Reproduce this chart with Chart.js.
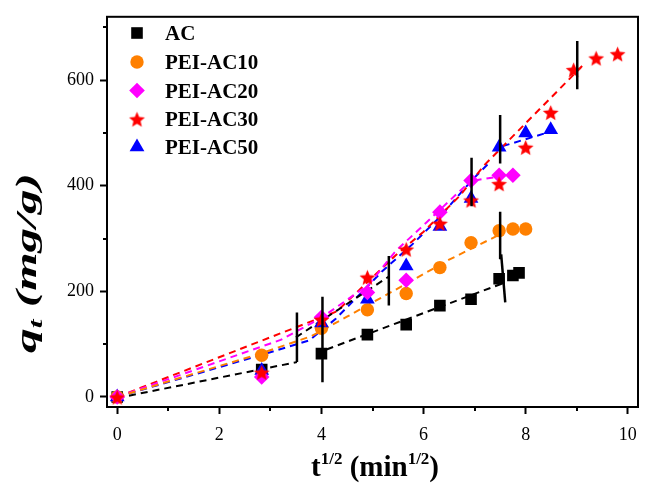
<!DOCTYPE html>
<html>
<head>
  <meta charset="utf-8">
  <title>Intraparticle diffusion plot</title>
  <style>
    html, body { margin: 0; padding: 0; background: #fff; }
    #chart { display: block; }
  </style>
</head>
<body>
  <canvas id="chart" width="650" height="484"></canvas>

  <script src="https://cdn.jsdelivr.net/npm/chart.js@4/dist/chart.umd.min.js"></script>
  <script>
    // axis ticks
    const xTickValues = [0, 2, 4, 6, 8, 10];
    const xMinorValues = [1, 3, 5, 7, 9];
    const yTickValues = [0, 200, 400, 600];
    const yMinorValues = [100, 300, 500, 700];

    // measured points, x = t^1/2, y = q_t
    const seriesNames = ['AC', 'PEI-AC10', 'PEI-AC20', 'PEI-AC30', 'PEI-AC50'];
    const acX = [0, 2.83, 4.0, 4.9, 5.66, 6.32, 6.93, 7.48, 7.75, 7.87];
    const acY = [0, 52, 82, 118, 137, 173, 185, 224, 230, 235];
    const ac10X = [0, 2.83, 4.0, 4.9, 5.66, 6.32, 6.93, 7.48, 7.75, 8.0];
    const ac10Y = [0, 79, 130, 165, 196, 245, 292, 315, 318, 318];
    const ac20X = [0, 2.83, 4.0, 4.9, 5.66, 6.32, 6.93, 7.48, 7.75];
    const ac20Y = [0, 38, 151, 198, 221, 350, 410, 420, 420];
    const ac30X = [0, 2.83, 4.0, 4.9, 5.66, 6.32, 6.93, 7.48, 8.0, 8.49, 8.94, 9.38, 9.8];
    const ac30Y = [0, 47, 147, 227, 280, 329, 373, 404, 473, 539, 620, 642, 650];
    const ac50X = [0, 2.83, 4.0, 4.9, 5.66, 6.32, 6.93, 7.48, 8.0, 8.49];
    const ac50Y = [0, 50, 140, 185, 248, 323, 376, 473, 500, 506];

    // dashed fit lines [x, y]
    const fitAcA = [[0, -2], [3.52, 66]];
    const fitAcB = [[3.5, 113], [5.32, 228]];
    const fitAcC = [[4.1, 90], [7.6, 217]];
    const fitAc10 = [[0, 0], [2.8, 82], [3.8, 115], [4.5, 152], [5.45, 203], [6.5, 260], [7.5, 308]];
    const fitAc20 = [[0, 0], [3.2, 108], [4.0, 150], [4.93, 213], [5.45, 276], [6.04, 329], [6.93, 410]];
    const fitAc20b = [[7.0, 410], [7.7, 421]];
    const fitAc30 = [[0, 0], [4.3, 162], [5.45, 268], [6.0, 313], [6.7, 380], [7.2, 440], [9.16, 632]];
    const fitAc50 = [[0, 0], [2.8, 79], [3.76, 107], [4.28, 148], [5.19, 238], [5.78, 289], [6.3, 339], [6.95, 411], [7.3, 445]];
    const fitAc50b = [[7.55, 475], [8.4, 500]];

    // vertical stage markers: lower end and upper end
    const dividerX1 = [3.52, 4.02, 5.32, 6.94, 7.5, 7.5, 7.6, 9.01];
    const dividerY1 = [66, 28, 173, 361, 442, 261, 179, 583];
    const dividerX2 = [3.52, 4.02, 5.32, 6.94, 7.5, 7.5, 7.52, 9.01];
    const dividerY2 = [160, 190, 267, 453, 534, 351, 270, 674];

    const serif = '"Liberation Serif", "Times New Roman", serif';
    const colors = ['#000000', '#ff8000', '#ff00ff', '#ff0000', '#0000ff'];

    function pts(xs, ys) {
      return xs.map((x, i) => ({ x: x, y: ys[i] }));
    }
    function pairPts(arr) {
      return arr.map(p => ({ x: p[0], y: p[1] }));
    }

    // filled five point star used as point style
    function makeStar(color, R) {
      const s = Math.ceil(R * 2 + 2);
      const c = document.createElement('canvas');
      c.width = s; c.height = s;
      const g = c.getContext('2d');
      g.fillStyle = color;
      g.beginPath();
      for (let i = 0; i < 10; i++) {
        const r = i % 2 === 0 ? R : R * 0.45;
        const a = -Math.PI / 2 + i * Math.PI / 5;
        const px = s / 2 + r * Math.cos(a);
        const py = s / 2 + 1 + r * Math.sin(a);
        if (i === 0) g.moveTo(px, py); else g.lineTo(px, py);
      }
      g.closePath();
      g.fill();
      return c;
    }
    const starImg = makeStar('#ff0000', 8.3);

    const markerStyles = ['rect', 'circle', 'rectRot', starImg, 'triangle'];
    const markerRadius = [8.2, 6.7, 7.8, 8, 8.5];

    function markerSet(i, xs, ys, order) {
      return {
        label: seriesNames[i],
        data: pts(xs, ys),
        showLine: false,
        pointStyle: markerStyles[i],
        pointRadius: markerRadius[i],
        pointHoverRadius: markerRadius[i],
        pointBorderWidth: 0,
        backgroundColor: colors[i],
        borderColor: colors[i],
        order: order
      };
    }
    function fitSet(points, color) {
      return {
        data: pairPts(points),
        showLine: true,
        borderColor: color,
        borderWidth: 2,
        borderDash: [7, 5],
        pointRadius: 0,
        fill: false,
        order: 10
      };
    }

    const datasets = [
      fitSet(fitAcA, colors[0]),
      fitSet(fitAcB, colors[0]),
      fitSet(fitAcC, colors[0]),
      fitSet(fitAc10, colors[1]),
      fitSet(fitAc20, colors[2]),
      fitSet(fitAc20b, colors[2]),
      fitSet(fitAc30, colors[3]),
      fitSet(fitAc50, colors[4]),
      fitSet(fitAc50b, colors[4]),
      markerSet(0, acX, acY, 6),
      markerSet(1, ac10X, ac10Y, 5),
      markerSet(4, ac50X, ac50Y, 4),
      markerSet(2, ac20X, ac20Y, 3),
      markerSet(3, ac30X, ac30Y, 2)
    ];
    dividerX1.forEach((x, i) => {
      datasets.push({
        data: [{ x: x, y: dividerY1[i] }, { x: dividerX2[i], y: dividerY2[i] }],
        showLine: true,
        borderColor: '#000',
        borderWidth: 2.5,
        pointRadius: 0,
        order: 0
      });
    });

    function drawRich(ctx, parts, cx, baseline) {
      let w = 0;
      parts.forEach(p => { ctx.font = p.font; w += ctx.measureText(p.text).width; });
      let x = cx - w / 2;
      parts.forEach(p => {
        ctx.font = p.font;
        ctx.fillText(p.text, x, baseline + p.dy);
        x += ctx.measureText(p.text).width;
      });
    }

    function legendMarker(ctx, i, x, y) {
      ctx.fillStyle = colors[i];
      ctx.beginPath();
      if (i === 0) {
        ctx.rect(x - 5.8, y - 5.8, 11.6, 11.6);
      } else if (i === 1) {
        ctx.arc(x, y, 6.7, 0, Math.PI * 2);
      } else if (i === 2) {
        ctx.moveTo(x, y - 7.8); ctx.lineTo(x + 7.8, y); ctx.lineTo(x, y + 7.8); ctx.lineTo(x - 7.8, y);
      } else if (i === 4) {
        ctx.moveTo(x, y - 8.5); ctx.lineTo(x + 7.4, y + 4.25); ctx.lineTo(x - 7.4, y + 4.25);
      }
      ctx.closePath();
      if (i === 3) {
        ctx.drawImage(starImg, x - starImg.width / 2, y - starImg.height / 2);
      } else {
        ctx.fill();
      }
    }

    const decor = {
      id: 'decor',
      afterDraw(chart) {
        const { ctx, chartArea: a, scales } = chart;
        const sx = scales.x, sy = scales.y;
        ctx.save();
        ctx.strokeStyle = '#000';
        ctx.lineWidth = 2;
        ctx.strokeRect(a.left, a.top, a.right - a.left, a.bottom - a.top);

        // minor ticks
        ctx.beginPath();
        xMinorValues.forEach(v => {
          const px = Math.round(sx.getPixelForValue(v));
          ctx.moveTo(px, a.bottom); ctx.lineTo(px, a.bottom + 4);
        });
        yMinorValues.forEach(v => {
          const py = Math.round(sy.getPixelForValue(v));
          ctx.moveTo(a.left, py); ctx.lineTo(a.left - 4, py);
        });
        ctx.stroke();

        // x title
        ctx.fillStyle = '#000';
        ctx.textBaseline = 'alphabetic';
        const big = 'bold 29px ' + serif;
        const sup = 'bold 17px ' + serif;
        drawRich(ctx, [
          { text: 't', font: big, dy: 0 },
          { text: '1/2', font: sup, dy: -12 },
          { text: ' (min', font: big, dy: 0 },
          { text: '1/2', font: sup, dy: -12 },
          { text: ')', font: big, dy: 0 }
        ], 375, 476);

        // y title, rotated and stretched along the text
        ctx.save();
        ctx.translate(36, 263);
        ctx.rotate(-Math.PI / 2);
        const yBig = 'italic bold 30px ' + serif;
        const ySub = 'italic bold 19px ' + serif;
        const yParts = [
          { text: 'q', font: yBig, dy: 0 },
          { text: 't', font: ySub, dy: 6 },
          { text: ' (mg/g)', font: yBig, dy: 0 }
        ];
        let w = 0;
        yParts.forEach(p => { ctx.font = p.font; w += ctx.measureText(p.text).width; });
        ctx.scale(180 / w, 1);
        drawRich(ctx, yParts, 0, 0);
        ctx.restore();

        // legend
        const rowY = [33, 62, 90.5, 119, 147];
        ctx.font = 'bold 21px ' + serif;
        seriesNames.forEach((name, i) => {
          legendMarker(ctx, i, 137, rowY[i]);
          ctx.fillStyle = '#000';
          ctx.fillText(name, 165, rowY[i] + 7);
        });
        ctx.restore();
      }
    };

    new Chart(document.getElementById('chart'), {
      type: 'scatter',
      data: { datasets: datasets },
      options: {
        responsive: false,
        animation: false,
        events: [],
        layout: { padding: { left: 0, right: 12, top: 14, bottom: 0 } },
        plugins: {
          legend: { display: false },
          tooltip: { enabled: false }
        },
        scales: {
          x: {
            type: 'linear',
            min: -0.2,
            max: 10.2,
            afterBuildTicks: s => { s.ticks = xTickValues.map(v => ({ value: v })); },
            afterFit: s => { s.height = 77; },
            border: { display: false },
            grid: { drawOnChartArea: false, drawTicks: true, tickLength: 7, tickWidth: 2, tickColor: '#000' },
            ticks: { color: '#000', font: { family: serif, size: 18 }, padding: 10, maxRotation: 0, autoSkip: false }
          },
          y: {
            type: 'linear',
            min: -19,
            max: 720,
            afterBuildTicks: s => { s.ticks = yTickValues.map(v => ({ value: v })); },
            afterFit: s => { s.width = 107; },
            border: { display: false },
            grid: { drawOnChartArea: false, drawTicks: true, tickLength: 7, tickWidth: 2, tickColor: '#000' },
            ticks: { color: '#000', font: { family: serif, size: 18 }, padding: 6, autoSkip: false }
          }
        }
      },
      plugins: [decor]
    });
  </script>
</body>
</html>
